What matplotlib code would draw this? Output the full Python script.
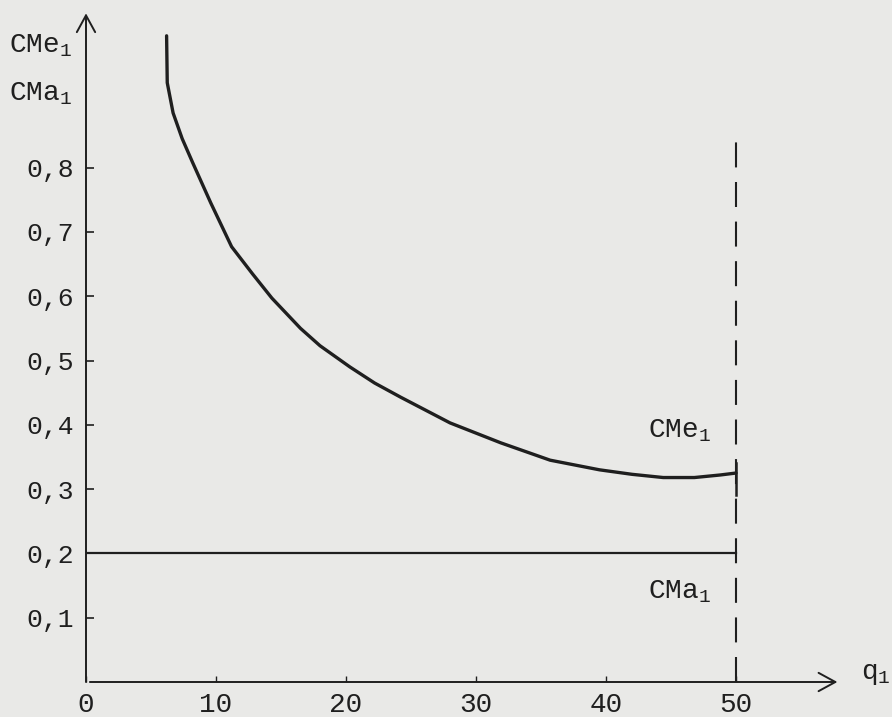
import matplotlib
matplotlib.use("Agg")
import matplotlib.pyplot as plt

# curve (q1 -> CMe1)
q_curve = [6.2, 6.25, 6.7, 7.4, 8.2, 9.6, 11.2, 12.8, 14.3, 16.5, 18.0, 20.3, 22.2, 24.2, 28.0, 31.9, 35.7, 39.5, 42.0, 44.4, 46.8, 48.8, 50.0]
cme_curve = [1.005, 0.932, 0.885, 0.845, 0.808, 0.745, 0.677, 0.635, 0.597, 0.550, 0.523, 0.490, 0.465, 0.443, 0.403, 0.372, 0.345, 0.330, 0.323, 0.318, 0.318, 0.322, 0.325]

# CMa1 is constant
cma_level = 0.2
q_max = 50
dash_top = 0.86
end_tick = [0.291, 0.341]

x_ticks = [0, 10, 20, 30, 40, 50]
x_labels = ["0", "10", "20", "30", "40", "50"]
y_ticks = [0.1, 0.2, 0.3, 0.4, 0.5, 0.6, 0.7, 0.8]
y_labels = ["0,1", "0,2", "0,3", "0,4", "0,5", "0,6", "0,7", "0,8"]

ink = "#1f1f1f"
paper = "#e9e9e7"

plt.rcParams["font.family"] = ["Liberation Mono", "DejaVu Sans Mono"]
plt.rcParams["mathtext.fontset"] = "custom"
plt.rcParams["mathtext.rm"] = "Liberation Mono"
plt.rcParams["mathtext.it"] = "Liberation Mono"

fig = plt.figure(figsize=(8.92, 7.17), dpi=100)
fig.patch.set_facecolor(paper)
ax = fig.add_axes([86 / 892, 35 / 717, 806 / 892, 682 / 717])
ax.set_facecolor(paper)
ax.set_xlim(0, 62)
ax.set_ylim(0, 1.0607)
for s in ax.spines.values():
    s.set_visible(False)

# axes with arrows
arr = dict(arrowstyle="->,head_length=0.55,head_width=0.3", lw=1.4, color=ink, mutation_scale=22, shrinkA=0, shrinkB=0)
ax.annotate("", xy=(0, 1.04), xytext=(0, 0), arrowprops=arr, annotation_clip=False)
ax.annotate("", xy=(57.8, 0), xytext=(0.3, 0), arrowprops=arr, annotation_clip=False)

ax.plot(q_curve, cme_curve, color=ink, lw=2.4, solid_capstyle="round", solid_joinstyle="round")
ax.plot([0, q_max], [cma_level, cma_level], color=ink, lw=1.6)
ax.plot([q_max, q_max], [0, dash_top], color=ink, lw=1.5, dashes=(12, 7))
ax.plot([q_max, q_max], end_tick, color=ink, lw=1.8)

ax.set_xticks(x_ticks)
ax.set_xticklabels(x_labels)
ax.set_yticks(y_ticks)
ax.set_yticklabels(y_labels)
ax.tick_params(axis="y", direction="in", length=6, width=1.2, color=ink, labelcolor=ink, labelsize=19, pad=9)
ax.tick_params(axis="x", direction="in", length=4, width=1.0, color=ink, labelcolor=ink, labelsize=20, pad=7)

ax.text(-5.9, 0.99, r"$\mathrm{CMe}_1$", fontsize=20, color=ink, ha="left", va="center")
ax.text(-5.9, 0.915, r"$\mathrm{CMa}_1$", fontsize=20, color=ink, ha="left", va="center")
ax.text(43.2, 0.39, r"$\mathrm{CMe}_1$", fontsize=20, color=ink, ha="left", va="center")
ax.text(43.2, 0.14, r"$\mathrm{CMa}_1$", fontsize=20, color=ink, ha="left", va="center")
ax.text(59.6, 0.012, r"$\mathrm{q}_1$", fontsize=20, color=ink, ha="left", va="center")

fig.savefig("out.png", dpi=100, facecolor=paper)
